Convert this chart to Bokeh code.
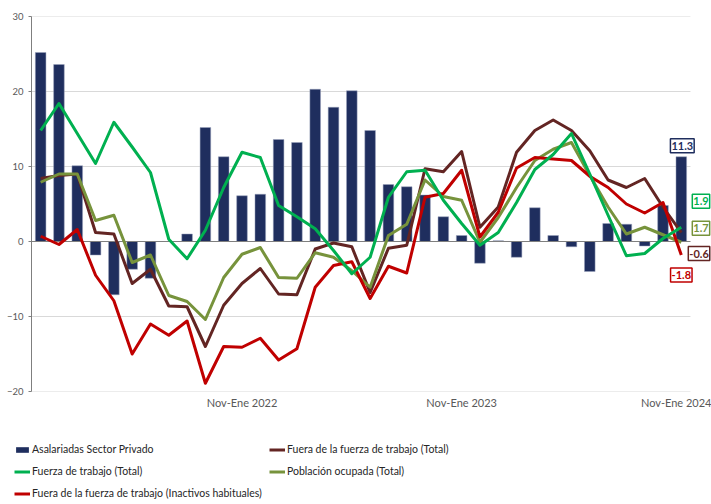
from bokeh.plotting import figure
from bokeh.layouts import column
from bokeh.models import (ColumnDataSource, FixedTicker, Legend, LegendItem,
                          Label, Range1d)
from bokeh.embed import file_html
from bokeh.resources import INLINE

# ---------------- data ----------------
periods = [
    "Dic-Feb 2021", "Ene-Mar 2021", "Feb-Abr 2021", "Mar-May 2021", "Abr-Jun 2021",
    "May-Jul 2021", "Jun-Ago 2021", "Jul-Sep 2021", "Ago-Oct 2021", "Sep-Nov 2021",
    "Oct-Dic 2021", "Nov-Ene 2022", "Dic-Feb 2022", "Ene-Mar 2022", "Feb-Abr 2022",
    "Mar-May 2022", "Abr-Jun 2022", "May-Jul 2022", "Jun-Ago 2022", "Jul-Sep 2022",
    "Ago-Oct 2022", "Sep-Nov 2022", "Oct-Dic 2022", "Nov-Ene 2023", "Dic-Feb 2023",
    "Ene-Mar 2023", "Feb-Abr 2023", "Mar-May 2023", "Abr-Jun 2023", "May-Jul 2023",
    "Jun-Ago 2023", "Jul-Sep 2023", "Ago-Oct 2023", "Sep-Nov 2023", "Oct-Dic 2023",
    "Nov-Ene 2024",
]
tick_labels = ["Nov-Ene 2022", "Nov-Ene 2023", "Nov-Ene 2024"]
y_ticks = [-20, -10, 0, 10, 20, 30]

asalariadas = [25.2, 23.6, 10.1, -1.8, -7.1, -3.7, -4.9, 0.0, 1.0, 15.2, 11.3, 6.1,
               6.3, 13.6, 13.2, 20.3, 17.9, 20.1, 14.8, 7.6, 7.3, 6.2, 3.3, 0.8,
               -2.9, 0.1, -2.1, 4.5, 0.8, -0.7, -4.0, 2.4, 2.3, -0.6, 4.8, 11.3]
fuera_total = [8.4, 8.8, 9.0, 1.2, 1.0, -5.6, -3.7, -8.6, -8.7, -14.0, -8.5, -5.6,
               -3.6, -7.0, -7.1, -1.0, -0.2, -0.7, -6.8, -0.9, -0.5, 9.7, 9.3, 12.0,
               1.9, 4.6, 11.9, 14.8, 16.2, 14.8, 12.1, 8.2, 7.2, 8.4, 4.6, 1.2]
fuerza_trabajo = [14.8, 18.4, 14.4, 10.4, 15.9, 12.6, 9.2, 0.3, -2.3, 1.5, 7.2, 11.9,
                  11.2, 4.8, 3.3, 1.7, -1.2, -4.3, -2.1, 5.9, 9.3, 9.5, 5.5, 2.4,
                  -0.5, 1.2, 5.2, 9.6, 11.6, 14.4, 9.0, 3.5, -1.9, -1.6, 0.4, 1.9]
poblacion_ocupada = [7.9, 9.0, 9.0, 2.8, 3.5, -2.8, -1.8, -7.2, -8.0, -10.4, -4.8, -1.7,
                     -0.8, -4.8, -4.9, -1.5, -2.1, -3.9, -6.1, 0.8, 2.3, 8.2, 6.0, 5.5,
                     -0.1, 3.2, 7.2, 10.8, 12.3, 13.2, 8.8, 4.6, 1.0, 1.9, 0.9, -0.1]
inactivos = [0.7, -0.4, 1.6, -4.5, -7.9, -15.0, -11.0, -12.5, -10.6, -18.9, -14.0, -14.1,
             -12.9, -15.8, -14.3, -6.1, -3.2, -2.7, -7.6, -3.3, -4.2, 5.9, 6.4, 9.5,
             0.6, 3.9, 9.8, 11.2, 11.0, 10.8, 8.7, 7.2, 5.0, 3.8, 5.2, -1.8]
end_labels = ["11.3", "1.9", "1.7", "-0.6", "-1.8"]

# ---------------- styles ----------------
NAVY = "#1F2E5E"
GREEN = "#00B050"
BROWN = "#632523"
OLIVE = "#77933C"
RED = "#C00000"
FONT = "Lato"
LEFT = 31  # frame left border (px)

n = len(periods)
idx = list(range(n))
x_lo, x_hi = -0.5, n - 0.5
src = ColumnDataSource(dict(x=idx, bar=asalariadas, ft=fuera_total, fz=fuerza_trabajo,
                            po=poblacion_ocupada, ina=inactivos))
grid_src = ColumnDataSource(dict(y=y_ticks, x0=[x_lo] * len(y_ticks),
                                 x1=[x_hi] * len(y_ticks)))

# frame spans to the right edge so end labels are not clipped
p = figure(width=711, height=421, output_backend="svg", toolbar_location=None,
           x_range=Range1d(x_lo, x_hi + 1.15), y_range=Range1d(-20, 30),
           min_border_left=LEFT, min_border_right=0, min_border_top=16,
           min_border_bottom=30)
p.outline_line_color = None
p.xgrid.grid_line_color = None
p.ygrid.grid_line_color = None

p.segment(x0="x0", x1="x1", y0="y", y1="y", source=grid_src,
          line_color="#D9D9D9", line_width=1)

bars = p.vbar(x="x", top="bar", width=0.58, source=src, fill_color=NAVY,
              line_color="#9AA3BD", line_width=0.5)
p.segment(x0=[x_lo], x1=[x_hi], y0=[0], y1=[0], line_color="#7F7F7F", line_width=1)

l_brown = p.line("x", "ft", source=src, line_color=BROWN, line_width=3, line_join="round")
l_olive = p.line("x", "po", source=src, line_color=OLIVE, line_width=3, line_join="round")
l_red = p.line("x", "ina", source=src, line_color=RED, line_width=3, line_join="round")
l_green = p.line("x", "fz", source=src, line_color=GREEN, line_width=3, line_join="round")

# axes
tick_pos = [periods.index(t) for t in tick_labels]
p.xaxis.ticker = FixedTicker(ticks=tick_pos)
p.xaxis.major_label_overrides = {i: periods[i] for i in tick_pos}
p.xaxis.axis_line_color = None
p.xaxis.major_tick_line_color = None
p.xaxis.minor_tick_line_color = None
p.xaxis.major_tick_out = 0
p.xaxis.major_label_standoff = 4
p.xaxis.major_label_text_font = FONT
p.xaxis.major_label_text_font_size = "11px"
p.xaxis.major_label_text_color = "#595959"

p.yaxis.ticker = FixedTicker(ticks=y_ticks)
p.yaxis.axis_line_color = "#7F7F7F"
p.yaxis.major_tick_line_color = "#7F7F7F"
p.yaxis.major_tick_in = 0
p.yaxis.major_tick_out = 3
p.yaxis.minor_tick_line_color = None
p.yaxis.major_label_standoff = 5
p.yaxis.major_label_text_font = FONT
p.yaxis.major_label_text_font_size = "9.5px"
p.yaxis.major_label_text_color = "#595959"

# end-of-series labels
label_specs = [
    (asalariadas[-1], end_labels[0], NAVY, "center", 1, 11),
    (fuerza_trabajo[-1], end_labels[1], GREEN, "left", 11, 26),
    (poblacion_ocupada[-1], end_labels[2], OLIVE, "left", 11, 14),
    (fuera_total[-1], end_labels[3], BROWN, "left", 7, -21),
    (inactivos[-1], end_labels[4], RED, "center", 0, -20),
]
for yv, txt, col, align, xo, yo in label_specs:
    p.add_layout(Label(x=idx[-1], y=yv, text=txt, x_offset=xo, y_offset=yo,
                       text_align=align, text_baseline="middle",
                       text_font=FONT, text_font_size="11px", text_font_style="bold",
                       text_color=col, background_fill_color="white",
                       border_line_color=col, border_line_width=1.5, padding=(1, 3)))

# ---------------- legend panel ----------------
# renderers share the data but sit outside this panel's ranges (only swatches show)
lf = figure(width=711, height=83, output_backend="svg", toolbar_location=None,
            x_range=Range1d(1000, 1001), y_range=Range1d(1000, 1001),
            x_axis_type=None, y_axis_type=None, min_border=0)
lf.outline_line_color = None
lf.xgrid.grid_line_color = None
lf.ygrid.grid_line_color = None

# do not align the legend panel's frame with the chart frame
shift = LEFT
try:
    lf.frame_align = False
    p.frame_align = False
    shift = 0
except Exception:
    pass

g_bar = lf.vbar(x="x", top="bar", width=0.58, source=src, fill_color=NAVY, line_color=None)
g_green = lf.line("x", "fz", source=src, line_color=GREEN, line_width=3)
g_red = lf.line("x", "ina", source=src, line_color=RED, line_width=3)
g_brown = lf.line("x", "ft", source=src, line_color=BROWN, line_width=3)
g_olive = lf.line("x", "po", source=src, line_color=OLIVE, line_width=3)


def make_legend(items, loc):
    return Legend(items=items, location=loc, orientation="vertical",
                  glyph_width=16, glyph_height=7, label_height=14, spacing=8,
                  label_standoff=2, padding=0, margin=0,
                  border_line_color=None, background_fill_alpha=0,
                  label_text_font=FONT, label_text_font_size="10.5px",
                  label_text_color="#262626")


left_leg = make_legend([
    LegendItem(label="Asalariadas Sector Privado", renderers=[g_bar]),
    LegendItem(label="Fuerza de trabajo (Total)", renderers=[g_green]),
    LegendItem(label="Fuera de la fuerza de trabajo (Inactivos habituales)", renderers=[g_red]),
], (14 - shift, 4))
right_leg = make_legend([
    LegendItem(label="Fuera de la fuerza de trabajo (Total)", renderers=[g_brown]),
    LegendItem(label="Población ocupada (Total)", renderers=[g_olive]),
], (269 - shift, 26))
lf.add_layout(left_leg)
lf.add_layout(right_leg)

layout = column(p, lf, spacing=0)
open("out.html", "w").write(file_html(layout, INLINE))
